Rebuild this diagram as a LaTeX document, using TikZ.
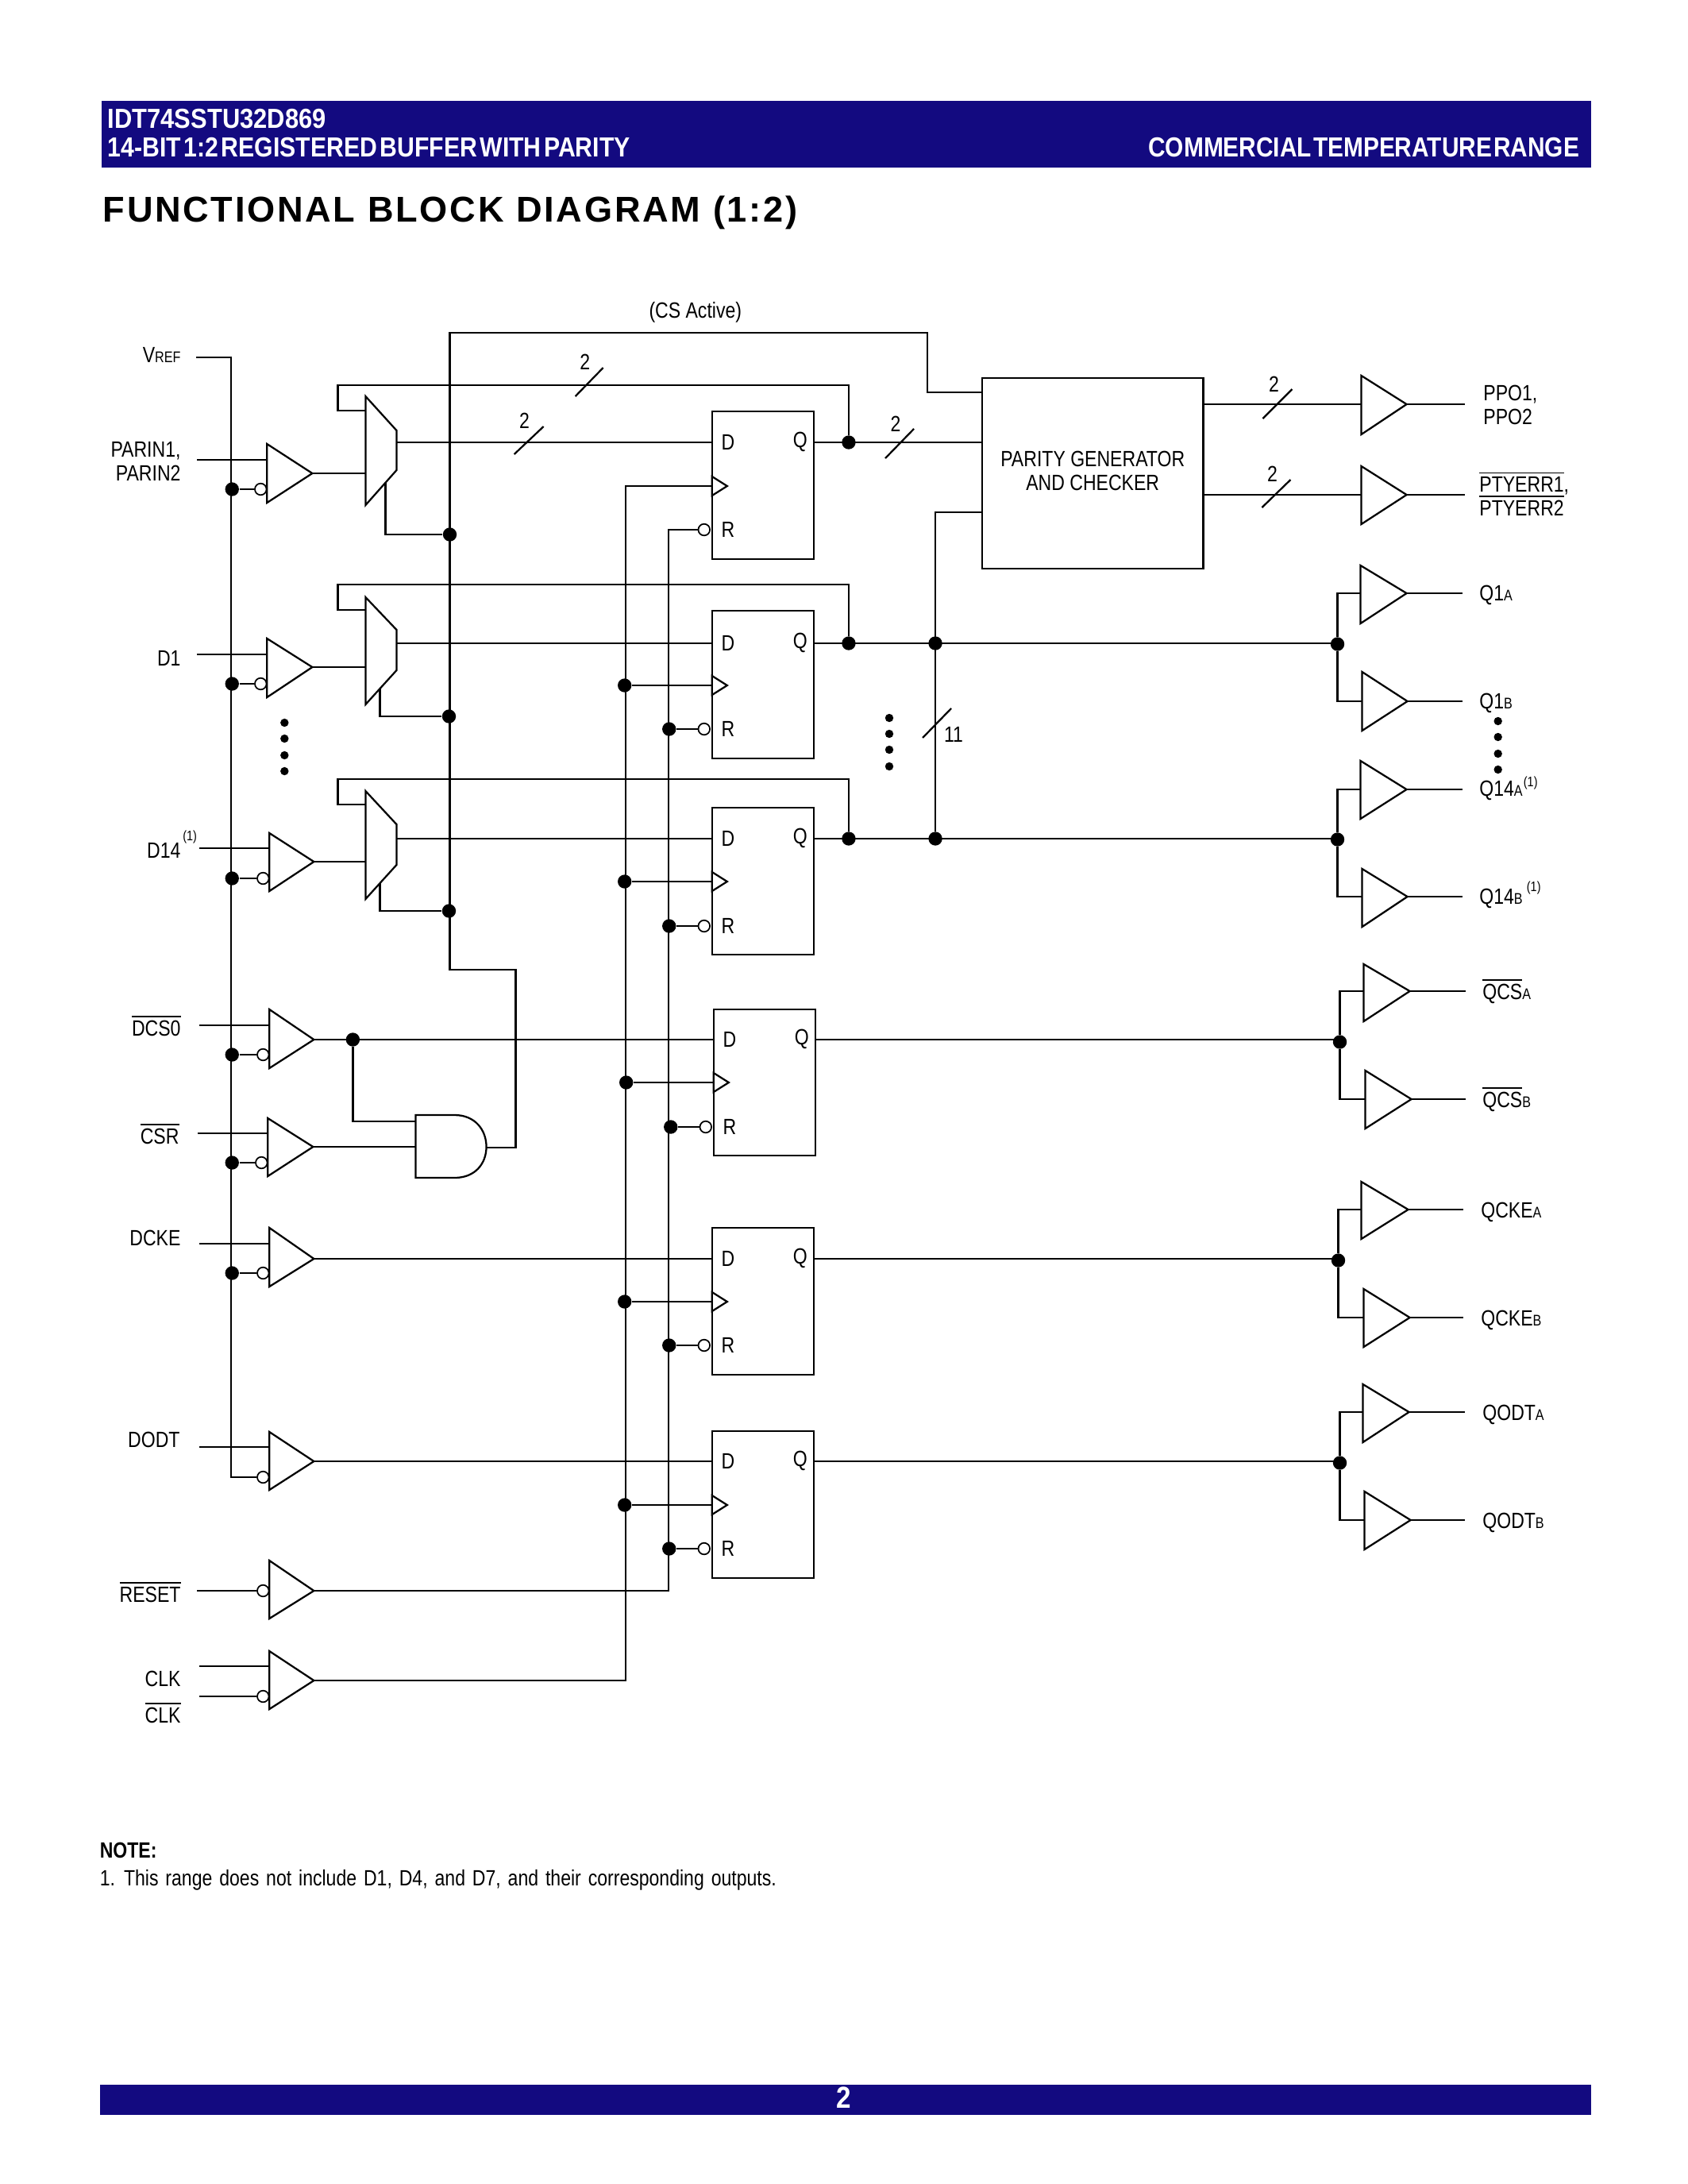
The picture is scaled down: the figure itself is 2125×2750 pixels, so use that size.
\documentclass[tikz,border=0pt]{standalone}
\usepackage{fontspec}
\setmainfont{Liberation Sans}
\newfontfamily\labfont[FakeStretch=0.83]{Liberation Sans}
\newfontfamily\hdrfont[FakeStretch=0.89]{Liberation Sans}
\newfontfamily\hdrtight[FakeStretch=0.87]{Liberation Sans}
\newfontfamily\hdrnarrow[FakeStretch=0.86]{Liberation Sans}
\usetikzlibrary{fit}
\definecolor{idtblue}{HTML}{130A80}
\newcommand{\sm}[1]{{\fontsize{5.6}{6}\selectfont #1}}
\newcommand{\ovl}[1]{$\overline{\hbox{#1}}$}
\tikzset{
  x=0.28825pt,y=-0.288pt,
  wire/.style={line width=0.65pt,line join=miter},
  gate/.style={line width=0.65pt,line join=miter},
  jdot/.style={circle,fill=black,draw=none,inner sep=0pt,minimum size=5pt},
  smalldot/.style={circle,fill=black,draw=none,inner sep=0pt,minimum size=3pt},
  bub/.style={circle,fill=white,draw=black,line width=0.5pt,inner sep=0pt,minimum size=4.2pt},
  box/.style={draw=black,line width=0.65pt,inner sep=0pt,rectangle},
  lab/.style={font=\labfont\fontsize{8}{8.64}\selectfont,inner sep=0pt,text height=5.3pt,text depth=0pt},
  mlab/.style={font=\labfont\fontsize{8}{8.64}\selectfont,inner sep=0pt},
  llab/.style={lab,anchor=east,align=right},
  rlab/.style={lab,anchor=west,align=left},
  sup/.style={font=\labfont\fontsize{5}{6}\selectfont,inner sep=0pt},
  bar/.style={fill=idtblue,draw=none,inner sep=0pt,rectangle},
  hdr/.style={text=white,inner sep=0pt,font=\hdrfont\bfseries\fontsize{10}{10}\selectfont,text height=7.2pt,text depth=0pt},
  hdrt/.style={hdr,font=\hdrtight\bfseries\fontsize{10}{10}\selectfont},
  hdrn/.style={hdr,font=\hdrnarrow\bfseries\fontsize{10}{10}\selectfont}
}
% output / plain buffer: name, left x, top y, bottom y, tip x, tip y
\newcommand{\buf}[6]{%
  \coordinate (#1-tip) at (#5,#6);
  \coordinate (#1-mid) at (#2,#6);
  \draw[gate] (#2,#3) -- (#2,#4) -- (#1-tip) -- cycle;
}
% input buffer: name, left, top, bot, tipx, tipy, input y, bubble y, wire start x
\newcommand{\ibuf}[9]{%
  \buf{#1}{#2}{#3}{#4}{#5}{#6}
  \coordinate (#1-start) at (#9,#7);
  \coordinate (#1-pin) at (#2,#7);
  \draw[wire] (#1-start) -- (#1-pin);
  \node[bub] (#1-bub) at (#2-8,#8) {};
}
% mux: name, top, bot, right top, right bot, feedback y, in y, out y, sel x, sel y
\newcommand{\muxx}[9]{%
  \coordinate (#1-fb) at (460,#6);
  \coordinate (#1-in) at (460,#7);
  \coordinate (#1-out) at (499,#8);
  \coordinate (#1-sel) at (#9);
  \draw[gate] (460,#2) -- (460,#3) -- (499,#5) -- (499,#4) -- cycle;
}
% flop: name, xl, xr, top, bot, D y, C y, R y
\newcommand{\flop}[8]{%
  \node[box,fit={(#2,#4)(#3,#5)}] (#1) {};
  \coordinate (#1-d) at (#2,#6);
  \coordinate (#1-q) at (#3,#6);
  \coordinate (#1-c) at (#2,#7);
  \draw[gate,fill=white] (#2,#7-12) -- (#2+19,#7) -- (#2,#7+12) -- cycle;
  \node[bub] (#1-r) at (#2-10,#8) {};
  \node[lab] (#1-Dl) at (#2+20,#6) {D};
  \node[lab] (#1-Ql) at (#3-17,#6-3) {Q};
  \node[lab] (#1-Rl) at (#2+20,#8) {R};
}
\newcommand{\slashmark}[5]{%
  \coordinate (#1-a) at (#2,#3);
  \coordinate (#1-b) at (#4,#5);
  \draw[wire] (#1-a) -- (#1-b);
}
\begin{document}
\begin{tikzpicture}
\useasboundingbox (0,0) rectangle (2123.2,2750);

% header and footer
\node[bar,fit={(128,127)(2002.5,211)}] (headbar) {};
\node[bar,fit={(126,2625)(2002.5,2663)}] (footbar) {};
\node[hdr,anchor=west] (h1) at (135,149) {IDT74SSTU32D869};
\node[hdrt,anchor=west] (h2) at (135,185) {\spaceskip=0.1em 14-BIT 1:2 REGISTERED BUFFER WITH PARITY};
\node[hdrn,anchor=east] (h3) at (1988,185) {\spaceskip=0.06em COMMERCIAL TEMPERATURE RANGE};
\node[hdr,font=\hdrtight\bfseries\fontsize{11}{11}\selectfont] (pg) at (1062,2642) {2};
\node[anchor=west,inner sep=0pt,font=\bfseries\fontsize{13}{13}\selectfont,text height=9.2pt,text depth=0pt] (title) at (129,264)
  {F\kern.06em U\kern.06em N\kern.06em C\kern.06em T\kern.06em I\kern.06em O\kern.06em N\kern.06em A\kern.06em L\hspace{.35em}B\kern.06em L\kern.06em O\kern.06em C\kern.06em K\hspace{.35em}D\kern.06em I\kern.06em A\kern.06em G\kern.06em R\kern.06em A\kern.06em M\hspace{.35em}(\kern.06em 1\kern.06em :\kern.06em 2\kern.06em )};
\node[lab,anchor=west,font=\labfont\bfseries\fontsize{8}{9}\selectfont] (n1) at (125,2330) {NOTE:};
\node[lab,anchor=west,font=\labfont\fontsize{8}{9}\selectfont] (n2) at (125,2365) {\spaceskip=0.32em 1. This range does not include D1, D4, and D7, and their corresponding outputs.};

% input buffers
\ibuf{pi}{336}{559}{633}{393}{596}{579}{616}{248}
\ibuf{d1}{336}{804}{878}{393}{840}{824}{861}{248}
\ibuf{d14}{339}{1049}{1122}{395}{1085}{1068}{1106}{251}
\ibuf{dcs}{339}{1271}{1345}{395}{1309}{1291}{1328}{251}
\ibuf{csr}{337}{1408}{1481}{394}{1444}{1427}{1464}{249}
\ibuf{cke}{339}{1546}{1620}{395}{1585}{1566}{1603}{251}
\ibuf{odt}{339}{1803}{1876}{395}{1840}{1822}{1860}{251}
\ibuf{clk}{339}{2079}{2152}{395}{2116}{2098}{2136}{251}
\buf{rst}{339}{1965}{2038}{395}{2003}
\node[bub] (rst-bub) at (331,2003) {};
\coordinate (rst-start) at (248,2003);
\coordinate (clk2-start) at (251,2136);
\draw[wire] (rst-start) -- (rst-bub);
\draw[wire] (clk2-start) -- (clk-bub);

% VREF bus
\coordinate (vref-start) at (247,450);
\coordinate (vref-c) at (291,450);
\coordinate (vref-end) at (291,1860);
\draw[wire] (vref-start) -- (vref-c) -- (vref-end) -- (odt-bub);
\foreach \nm/\yy in {pi/616,d1/861,d14/1106,dcs/1328,csr/1464,cke/1603}{
  \node[jdot] (v\nm) at (292,\yy) {};
  \draw[wire] (v\nm) -- (\nm-bub);
}

% muxes
\muxx{m1}{499}{636}{542}{592}{517}{596}{557}{485,608}
\muxx{m2}{752}{887}{793}{844}{768}{840}{810}{478,867}
\muxx{m3}{996}{1132}{1038}{1089}{1013}{1085}{1056}{478,1112}
\draw[wire] (pi-tip) -- (m1-in);
\draw[wire] (d1-tip) -- (m2-in);
\draw[wire] (d14-tip) -- (m3-in);

% flip-flops
\flop{f1}{896}{1024}{518}{704}{557}{612}{667}
\flop{f2}{896}{1024}{769}{955}{810}{863}{918}
\flop{f3}{896}{1024}{1017}{1202}{1056}{1110}{1166}
\flop{f4}{898}{1026}{1271}{1455}{1309}{1363}{1419}
\flop{f5}{896}{1024}{1546}{1731}{1585}{1639}{1694}
\flop{f6}{896}{1024}{1802}{1987}{1840}{1895}{1950}

\draw[wire] (m1-out) -- (f1-d);
\draw[wire] (m2-out) -- (f2-d);
\draw[wire] (m3-out) -- (f3-d);
\draw[wire] (dcs-tip) -- (f4-d);
\draw[wire] (cke-tip) -- (f5-d);
\draw[wire] (odt-tip) -- (f6-d);

% parity block
\node[box,fit={(1236,476)(1514,716)}] (par) {};
\node[mlab,align=center] (partxt) at (1375,593) {PARITY GENERATOR\\AND CHECKER};

% select / CS bus
\coordinate (cs-top) at (566,419);
\coordinate (cs-r) at (1167,419);
\coordinate (cs-d) at (1167,494);
\coordinate (cs-par) at (1236,494);
\coordinate (cs-a) at (566,1221);
\coordinate (cs-b) at (649,1221);
\coordinate (cs-c) at (649,1445);
\coordinate (and-o) at (612,1445);
\draw[wire] (and-o) -- (cs-c) -- (cs-b) -- (cs-a) -- (cs-top) -- (cs-r) -- (cs-d) -- (cs-par);
\node[jdot] (s1) at (566,673) {};
\node[jdot] (s2) at (565,902) {};
\node[jdot] (s3) at (565,1147) {};
\draw[wire] (m1-sel) -- (485,673) -- (s1);
\draw[wire] (m2-sel) -- (478,902) -- (s2);
\draw[wire] (m3-sel) -- (478,1147) -- (s3);

% AND gate
\coordinate (and-a) at (523,1412);
\coordinate (and-b) at (523,1444);
\draw[gate] (523,1404) -- (523,1483) -- (572,1483) .. controls (598,1483) and (612,1465) .. (612,1444) .. controls (612,1423) and (598,1404) .. (572,1404) -- cycle;
\node[jdot] (dcsj) at (444,1309) {};
\coordinate (and-c) at (444,1412);
\draw[wire] (dcsj) -- (and-c) -- (and-a);
\draw[wire] (csr-tip) -- (and-b);

% feedback from Q
\node[jdot] (q1) at (1068,557) {};
\node[jdot] (q2) at (1068,810) {};
\node[jdot] (q3) at (1068,1056) {};
\coordinate (par-d) at (1236,557);
\draw[wire] (f1-q) -- (par-d);
\draw[wire] (m1-fb) -- (425,517) -- (425,485) -- (1068,485) -- (q1);
\draw[wire] (m2-fb) -- (425,768) -- (425,736) -- (1068,736) -- (q2);
\draw[wire] (m3-fb) -- (425,1013) -- (425,981) -- (1068,981) -- (q3);

% clock bus
\coordinate (clk-top) at (787,612);
\coordinate (clk-bot) at (787,2116);
\draw[wire] (clk-tip) -- (clk-bot) -- (clk-top) -- (f1-c);
\node[jdot] (c2) at (786,863) {};
\node[jdot] (c3) at (786,1110) {};
\node[jdot] (c4) at (788,1363) {};
\node[jdot] (c5) at (786,1639) {};
\node[jdot] (c6) at (786,1895) {};
\draw[wire] (c2) -- (f2-c);
\draw[wire] (c3) -- (f3-c);
\draw[wire] (c4) -- (f4-c);
\draw[wire] (c5) -- (f5-c);
\draw[wire] (c6) -- (f6-c);

% reset bus
\coordinate (rst-c) at (841,2003);
\coordinate (rst-t) at (841,667);
\draw[wire] (rst-tip) -- (rst-c) -- (rst-t) -- (f1-r);
\node[jdot] (r2) at (842,918) {};
\node[jdot] (r3) at (842,1166) {};
\node[jdot] (r4) at (844,1419) {};
\node[jdot] (r5) at (842,1694) {};
\node[jdot] (r6) at (842,1950) {};
\draw[wire] (r2) -- (f2-r);
\draw[wire] (r3) -- (f3-r);
\draw[wire] (r4) -- (f4-r);
\draw[wire] (r5) -- (f5-r);
\draw[wire] (r6) -- (f6-r);

% parity outputs
\buf{po}{1713}{473}{547}{1770}{509}
\buf{pe}{1713}{587}{660}{1770}{623}
\coordinate (par-o1) at (1514,509);
\coordinate (par-o2) at (1514,623);
\coordinate (po-end) at (1843,509);
\coordinate (pe-end) at (1843,623);
\draw[wire] (par-o1) -- (po-mid);
\draw[wire] (par-o2) -- (pe-mid);
\draw[wire] (po-tip) -- (po-end);
\draw[wire] (pe-tip) -- (pe-end);

% Q buses
\node[jdot] (p2) at (1177,810) {};
\node[jdot] (p3) at (1177,1056) {};
\node[jdot] (j2) at (1683,811) {};
\node[jdot] (j3) at (1683,1057) {};
\node[jdot] (j4) at (1686,1312) {};
\node[jdot] (j5) at (1684,1587) {};
\node[jdot] (j6) at (1686,1842) {};
\coordinate (par-p) at (1236,645);
\coordinate (par-pc) at (1177,645);
\draw[wire] (par-p) -- (par-pc) -- (p3);
\draw[wire] (f2-q) -- (1683,810);
\draw[wire] (f3-q) -- (1683,1056);
\draw[wire] (f4-q) -- (1686,1309);
\draw[wire] (f5-q) -- (1684,1585);
\draw[wire] (f6-q) -- (1686,1840);

% output fan-out buffers
\foreach \nm/\jn/\bx/\lft/\topy/\boty/\tipx/\cy/\ex in {
  a1/j2/1683/1712/712/785/1770/747/1840,
  b1/j2/1683/1714/846/920/1771/883/1840,
  a14/j3/1683/1712/958/1031/1770/994/1840,
  b14/j3/1683/1714/1094/1167/1771/1129/1840,
  ac/j4/1686/1716/1214/1286/1774/1248/1844,
  bc/j4/1686/1718/1348/1421/1776/1384/1844,
  ak/j5/1684/1713/1488/1560/1772/1523/1841,
  bk/j5/1684/1716/1623/1696/1774/1659/1841,
  ao/j6/1686/1715/1743/1816/1773/1778/1843,
  bo/j6/1686/1717/1878/1951/1775/1914/1843}{
  \buf{\nm}{\lft}{\topy}{\boty}{\tipx}{\cy}
  \coordinate (\nm-end) at (\ex,\cy);
  \coordinate (\nm-br) at (\bx,\cy);
  \draw[wire] (\jn) -- (\nm-br) -- (\nm-mid);
  \draw[wire] (\nm-tip) -- (\nm-end);
}

% bus slashes and widths
\slashmark{s-top}{724}{499}{759}{463}
\slashmark{s-mid}{647}{572}{684}{537}
\slashmark{s-q}{1114}{577}{1150}{540}
\slashmark{s-po}{1589}{527}{1626}{490}
\slashmark{s-pe}{1588}{639}{1624}{604}
\slashmark{s-11}{1161}{929}{1197}{892}
\node[lab] (w1) at (736,456) {2};
\node[lab] (w2) at (660,530) {2};
\node[lab] (w3) at (1127,534) {2};
\node[lab] (w4) at (1603,484) {2};
\node[lab] (w5) at (1601,597) {2};
\node[lab] (w6) at (1200,925) {11};

% continuation dots
\foreach \i/\xx/\yy in {1/358/910,2/358/930,3/358/951,4/358/971,
  5/1119/904,6/1119/924,7/1119/944,8/1119/965,
  9/1885/908,10/1885/928,11/1885/949,12/1885/969}{
  \node[smalldot] (e\i) at (\xx,\yy) {};
}

% labels
\node[lab] (cs) at (875,391) {(CS Active)};
\node[llab] (Lv) at (228,447) {V\sm{REF}};
\node[mlab,anchor=east,align=right] (Lp) at (228,581) {PARIN1,\\PARIN2};
\node[llab] (Ld1) at (228,829) {D1};
\node[llab] (Ld14) at (228,1071) {D14};
\node[sup] (Ld14s) at (239,1054) {(1)};
\node[llab] (Ldcs) at (228,1295) {\ovl{DCS0}};
\node[llab] (Lcsr) at (226,1431) {\ovl{CSR}};
\node[llab] (Lcke) at (228,1559) {DCKE};
\node[llab] (Lodt) at (227,1813) {DODT};
\node[llab] (Lrst) at (228,2008) {\ovl{RESET}};
\node[llab] (Lclk) at (228,2114) {CLK};
\node[llab] (Lclkb) at (228,2160) {\ovl{CLK}};

\node[mlab,anchor=west,align=left] (Rpo) at (1866,510) {PPO1,\\PPO2};
\node[rlab] (Rpe1) at (1861,610) {\ovl{PTYERR1},};
\node[rlab] (Rpe2) at (1861,640) {\ovl{PTYERR2}};
\node[rlab] (Q1a) at (1861,747) {Q1\sm{A}};
\node[rlab] (Q1b) at (1861,883) {Q1\sm{B}};
\node[rlab] (Q14a) at (1861,993) {Q14\sm{A}};
\node[sup] (Q14as) at (1926,986) {(1)};
\node[rlab] (Q14b) at (1861,1129) {Q14\sm{B}};
\node[sup] (Q14bs) at (1930,1118) {(1)};
\node[rlab] (Qca) at (1865,1249) {\ovl{QCS}\sm{A}};
\node[rlab] (Qcb) at (1865,1385) {\ovl{QCS}\sm{B}};
\node[rlab] (Qka) at (1863,1524) {QCKE\sm{A}};
\node[rlab] (Qkb) at (1863,1660) {QCKE\sm{B}};
\node[rlab] (Qoa) at (1865,1779) {QODT\sm{A}};
\node[rlab] (Qob) at (1865,1915) {QODT\sm{B}};
\end{tikzpicture}
\end{document}
